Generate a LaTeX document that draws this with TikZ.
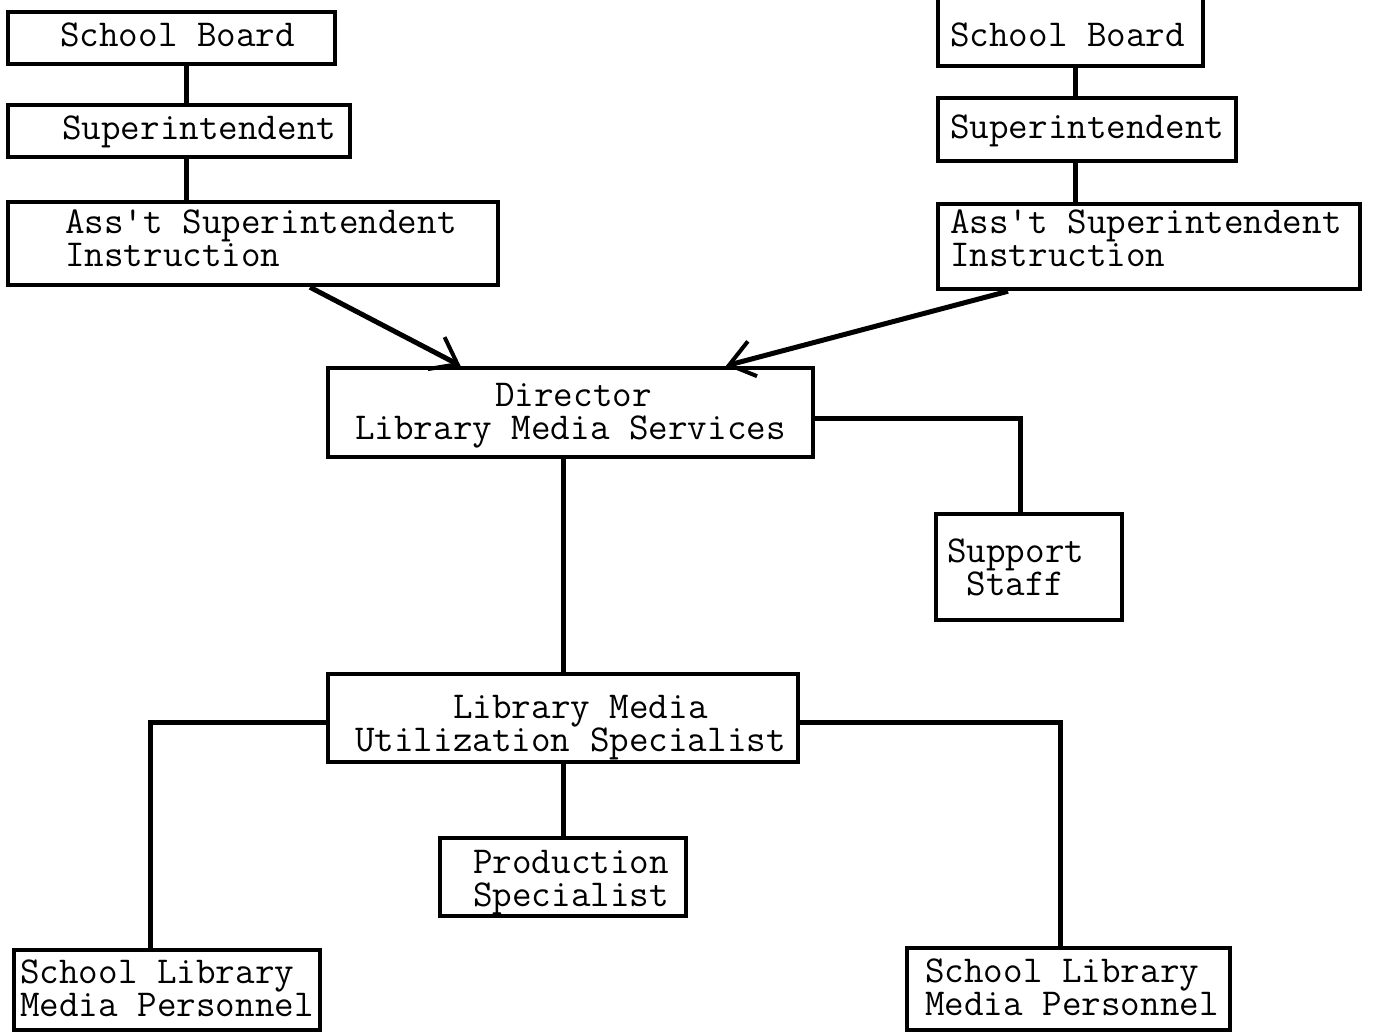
\documentclass[tikz,border=0pt]{standalone}
\usepackage{fontspec}
\usetikzlibrary{arrows.meta}
\tikzset{
  box/.style={draw, line width=4.5pt, inner sep=0pt},
  txt/.style={anchor=base west, inner sep=0pt, align=left, font=\ttfamily\fontsize{38}{33}\selectfont},
  conn/.style={line width=5pt},
  arr/.style={line width=5pt, -{Straight Barb[length=24pt,width=36pt,line width=4pt]}}
}
\begin{document}
\begin{tikzpicture}[x=1pt,y=-1pt]
\useasboundingbox (0,0) rectangle (1374,1032);
% boxes
\node[box, minimum width=327pt, minimum height=52pt] (lsb) at (171.5,38) {};
\node[box, minimum width=342pt, minimum height=52pt] (lsup) at (179,131) {};
\node[box, minimum width=490pt, minimum height=83pt] (lass) at (253,243.5) {};
\node[box, minimum width=265pt, minimum height=72pt] (rsb) at (1070.5,30) {};
\node[box, minimum width=298pt, minimum height=63pt] (rsup) at (1087,129.5) {};
\node[box, minimum width=422pt, minimum height=85pt] (rass) at (1149,246.5) {};
\node[box, minimum width=485pt, minimum height=89pt] (dir) at (570.5,412.5) {};
\node[box, minimum width=186pt, minimum height=106pt] (staff) at (1029,567) {};
\node[box, minimum width=470pt, minimum height=88pt] (lmus) at (563,718) {};
\node[box, minimum width=246pt, minimum height=78pt] (prod) at (563,877) {};
\node[box, minimum width=306pt, minimum height=80pt] (lslmp) at (167,990) {};
\node[box, minimum width=323pt, minimum height=82pt] (rslmp) at (1068.5,989) {};
% texts (base = baseline of the last line)
\node[txt] (t1) at (60,47) {School Board};
\node[txt] (t2) at (62,140) {Superintendent};
\node[txt] (t3) at (65,267) {Ass't Superintendent\\Instruction};
\node[txt] (t5) at (950,47) {School Board};
\node[txt] (t6) at (950,139) {Superintendent};
\node[txt] (t7) at (950,267) {Ass't Superintendent\\Instruction};
\node[txt] (t9) at (355,439) {\hspace*{140pt}Director\\Library Media Services};
\node[txt] (t11) at (947,595) {Support\\\hspace*{19.5pt}Staff};
\node[txt] (t13) at (355,751) {\hspace*{98pt}Library Media\\Utilization Specialist};
\node[txt] (t15) at (473,906) {Production\\Specialist};
\node[txt] (t17) at (20,1016) {School Library\\Media Personnel};
\node[txt] (t19) at (925,1015) {School Library\\Media Personnel};
% connectors
\draw[conn] ([xshift=14.5pt]lsb.south) -- ([xshift=14.5pt]lsb.south |- lsup.north);
\draw[conn] ([xshift=7pt]lsup.south) -- ([xshift=7pt]lsup.south |- lass.north);
\draw[conn] ([xshift=4.5pt]rsb.south) -- ([xshift=4.5pt]rsb.south |- rsup.north);
\draw[conn] ([xshift=-12pt]rsup.south) -- ([xshift=-12pt]rsup.south |- rass.north);
\draw[arr] ([xshift=57pt]lass.south) -- ([xshift=-110pt]dir.north);
\draw[arr] ([xshift=-141pt]rass.south) -- ([xshift=155.5pt]dir.north);
\draw[conn] ([yshift=-5.5pt]dir.east) -| ([xshift=-9pt]staff.north);
\draw[conn] (dir.south -| lmus.north) -- (lmus.north);
\draw[conn] (lmus.south) -- (prod.north);
\draw[conn] ([yshift=-4pt]lmus.west) -| ([xshift=-17pt]lslmp.north);
\draw[conn] ([yshift=-4pt]lmus.east) -| ([xshift=-8.5pt]rslmp.north);
\end{tikzpicture}
\end{document}
